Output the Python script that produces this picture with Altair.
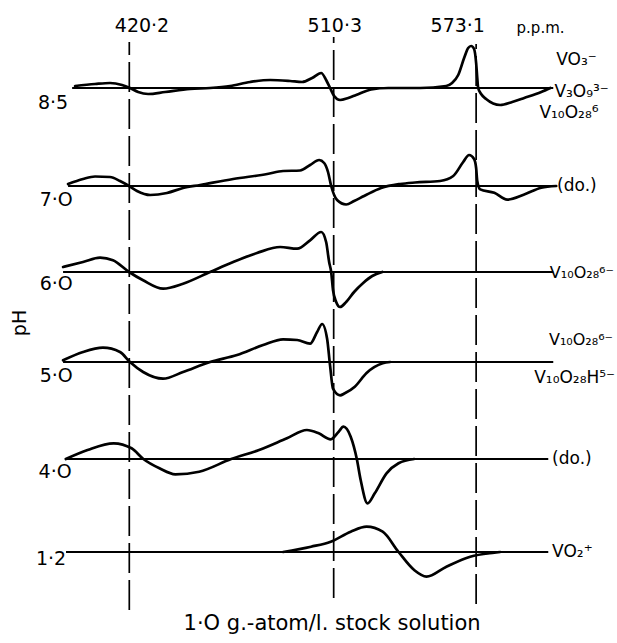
import altair as alt
import pandas as pd

# ---------------- data ----------------
# chemical shift positions (p.p.m.) of the reference lines
ref_ppm = [420.2, 510.3, 573.1]
ref_labels = ["420·2", "510·3", "573·1"]

ph_labels = ["8·5", "7·O", "6·O", "5·O", "4·O", "1·2"]

# each trace: shift (p.p.m.) and signal amplitude (arbitrary units, + = up)
ppm_85 = [396.3, 405.1, 411.7, 417.0, 420.5, 424.1, 428.5, 436.0, 447.0, 455.8, 464.6, 473.5,
          482.3, 491.1, 496.4, 500.8, 504.8, 506.97, 508.7, 510.5, 513.1, 516.7, 520.2, 526.8,
          534.3, 548.4, 559.9, 562.5, 565.2, 567.8, 569.6, 570.9, 572.2, 573.1, 573.6, 574.0,
          575.3, 577.5, 583.7, 589.0, 594.3, 601.8, 605.8]
amp_85 = [2, 4, 5, 3, 0, -4, -6, -4, -1, 0, 2, 6,
          8, 7, 6, 10, 15, 8, 0, -8, -12, -10, -7, -1.5,
          0, 0, 2, 5, 13, 30, 40, 42, 39, 25, 10, 0,
          -6, -11, -17, -14, -10, -4, 0]

ppm_70 = [393.2, 399.8, 405.1, 411.7, 416.1, 420.1, 423.6, 429.4, 436.8, 443.9, 451.4, 466.0,
          481.0, 488.0, 495.5, 499.9, 503.9, 506.1, 507.8, 509.2, 511.8, 515.8, 519.3, 523.7,
          531.2, 539.6, 546.2, 557.2, 563.0, 567.4, 570.0, 572.2, 573.1, 573.6, 574.9, 581.1,
          586.8, 594.3, 601.8, 608.4]
amp_70 = [2, 7, 9.5, 9, 5, 0, -5, -9, -7, -2, 1, 7,
          12, 15, 15.5, 21, 26, 23, 14, 0, -14, -18.5, -15, -10,
          -2, 2, 3.5, 5, 10, 24, 31, 27, 18, 5, -3.4, -6.8,
          -13.6, -8.5, -1.7, 0]

ppm_60 = [391.0, 399.8, 407.3, 413.0, 420.1, 426.3, 435.1, 443.9, 455.8, 466.0, 476.5, 486.7,
          494.2, 499.9, 504.8, 506.97, 508.3, 509.2, 510.0, 511.4, 513.1, 515.8, 519.3, 523.3,
          527.3, 531.7]
amp_60 = [5, 10, 14.3, 11.7, 0, -8.3, -16.7, -11.7, 0, 10, 19, 25,
          23.3, 31.7, 40, 30, 10, 0, -18, -30, -35, -30, -20, -11,
          -4, 0]

ppm_50 = [391.0, 399.8, 408.6, 416.1, 420.5, 426.3, 435.1, 443.9, 455.8, 467.7, 479.2, 488.0,
          494.2, 499.9, 503.0, 505.2, 507.4, 508.7, 510.0, 513.1, 515.2, 519.6, 524.8, 531.9,
          535.2]
amp_50 = [1.7, 10, 14.3, 10, 0, -10, -16.7, -10, 0, 7, 17, 22.7,
          22, 18.3, 30, 38, 23.3, -3.3, -26.7, -33.3, -31.3, -24.7, -11, -1.3,
          0]

ppm_40 = [392.2, 401.8, 413.3, 421.2, 426.4, 433.5, 440.5, 451.0, 465.1, 477.4, 489.7, 498.5,
          503.7, 509.0, 512.5, 514.6, 517.8, 520.5, 522.2, 525.2, 528.4, 533.6, 538.9, 545.8]
amp_40 = [0, 9, 15.7, 10.7, 0, -9.3, -15.3, -12.7, 0, 9, 20.7, 29,
          25.7, 19.7, 27.3, 32.3, 22.3, 0, -21, -44.3, -34.3, -14.3, -4.3, 0]

ppm_12 = [488.0, 500.3, 509.0, 517.8, 524.8, 531.9, 538.9, 545.9, 551.2, 560.0, 570.5, 581.1,
          583.7]
amp_12 = [0, 5.3, 10.3, 20.3, 25.3, 20.3, 0, -18.3, -24.7, -14.7, -4.7, -0.7, 0]

# species assigned to each trace
species = [["VO₃⁻", "V₃O₉³⁻", "V₁₀O₂₈⁶"], ["(do.)"], ["V₁₀O₂₈⁶⁻"],
           ["V₁₀O₂₈⁶⁻", "V₁₀O₂₈H⁵⁻"], ["(do.)"], ["VO₂⁺"]]

# ---------------- layout (not data) ----------------
FONT = "DejaVu Sans"
W, H = 617, 643
XDOM = [363.2, 635.2]
YDOM = [0, 643]
base_level = [555, 457, 371, 281, 184, 91]
base_extent = [(395.0, 607.1), (393.2, 608.4), (391.0, 607.1), (391.0, 607.1),
               (392.3, 604.9), (392.3, 604.9)]
ref_extent = [(33, 601), (45, 606), (39, 599)]

traces = [(ppm_85, amp_85), (ppm_70, amp_70), (ppm_60, amp_60),
          (ppm_50, amp_50), (ppm_40, amp_40), (ppm_12, amp_12)]

rows = []
for i, (pp, aa) in enumerate(traces):
    for p, a in zip(pp, aa):
        rows.append({"trace": ph_labels[i], "ppm": p, "y": base_level[i] + a})
curves = pd.DataFrame(rows)

bases = pd.DataFrame({
    "trace": ph_labels,
    "x0": [e[0] for e in base_extent],
    "x1": [e[1] for e in base_extent],
    "y": base_level,
})

refs = pd.DataFrame({
    "ppm": ref_ppm,
    "y0": [e[0] for e in ref_extent],
    "y1": [e[1] for e in ref_extent],
})

xs = alt.Scale(domain=XDOM, nice=False, zero=False)
ys = alt.Scale(domain=YDOM, nice=False, zero=False)

def X(f):
    return alt.X(f, type="quantitative", scale=xs, axis=None)

def Y(f):
    return alt.Y(f, type="quantitative", scale=ys, axis=None)

ref_lines = alt.Chart(refs).mark_rule(color="black", strokeWidth=1.7,
                                       strokeDash=[30, 7]).encode(
    x=X("ppm"), y=Y("y0"), y2="y1")

base_lines = alt.Chart(bases).mark_rule(color="black", strokeWidth=2.1).encode(
    x=X("x0"), x2="x1", y=Y("y"))

curve_lines = alt.Chart(curves).mark_line(
    color="black", strokeWidth=2.7, interpolate="monotone",
    strokeCap="round", strokeJoin="round").encode(
    x=X("ppm"), y=Y("y"), detail="trace:N", order="ppm:Q")

# top reference labels
top_df = pd.DataFrame({"t": ref_labels + ["p.p.m."],
                       "x": [425.8, 510.8, 565.0, 601.5],
                       "y": [617, 617, 617, 615],
                       "fs": [19, 19, 19, 15]})
top_text = alt.Chart(top_df).mark_text(font=FONT, align="center", baseline="middle",
                                       color="black").encode(
    x=X("x"), y=Y("y"), text="t:N", size=alt.Size("fs:Q", scale=None, legend=None))

# pH labels
ph_df = pd.DataFrame({"t": ph_labels,
                      "x": [386.6, 388.0, 388.0, 388.0, 387.5, 385.7],
                      "y": [540, 443, 359, 267, 171, 84]})
ph_text = alt.Chart(ph_df).mark_text(font=FONT, fontSize=19, align="center",
                                     baseline="middle", color="black").encode(
    x=X("x"), y=Y("y"), text="t:N")

# species labels on the right
sp_t, sp_x, sp_y, sp_fs = [], [], [], []
sp_pos = [[(608.4, 583, 17), (607.6, 551, 17), (601.0, 530, 17)], [(608.8, 457, 17)],
          [(605.6, 370, 16)], [(605.2, 303, 16), (598.7, 265, 17)], [(606.6, 184, 17)],
          [(606.6, 91, 17)]]
for labs, poss in zip(species, sp_pos):
    for lab, (px, py, fs) in zip(labs, poss):
        sp_t.append(lab)
        sp_x.append(px)
        sp_y.append(py)
        sp_fs.append(fs)
sp_df = pd.DataFrame({"t": sp_t, "x": sp_x, "y": sp_y, "fs": sp_fs})
sp_text = alt.Chart(sp_df).mark_text(font=FONT, align="left",
                                     baseline="middle", color="black").encode(
    x=X("x"), y=Y("y"), text="t:N", size=alt.Size("fs:Q", scale=None, legend=None))

# axis title pH (rotated) and bottom caption
ax_df = pd.DataFrame({"t": ["pH"], "x": [372.0], "y": [320]})
ax_text = alt.Chart(ax_df).mark_text(font=FONT, fontSize=19, align="center",
                                     baseline="middle", angle=270, color="black").encode(
    x=X("x"), y=Y("y"), text="t:N")

cap_df = pd.DataFrame({"t": ["1·O g.-atom/l. stock solution"], "x": [509.6], "y": [19]})
cap_text = alt.Chart(cap_df).mark_text(font=FONT, fontSize=21, align="center",
                                       baseline="middle", color="black").encode(
    x=X("x"), y=Y("y"), text="t:N")

chart = alt.layer(ref_lines, base_lines, curve_lines, top_text, ph_text, sp_text,
                  ax_text, cap_text).properties(
    width=W, height=H, padding=0, autosize=alt.AutoSizeParams(type="none"),
    background="white"
).configure_view(stroke=None)

chart.save("out.html", embed_options={"renderer": "svg", "actions": False})
